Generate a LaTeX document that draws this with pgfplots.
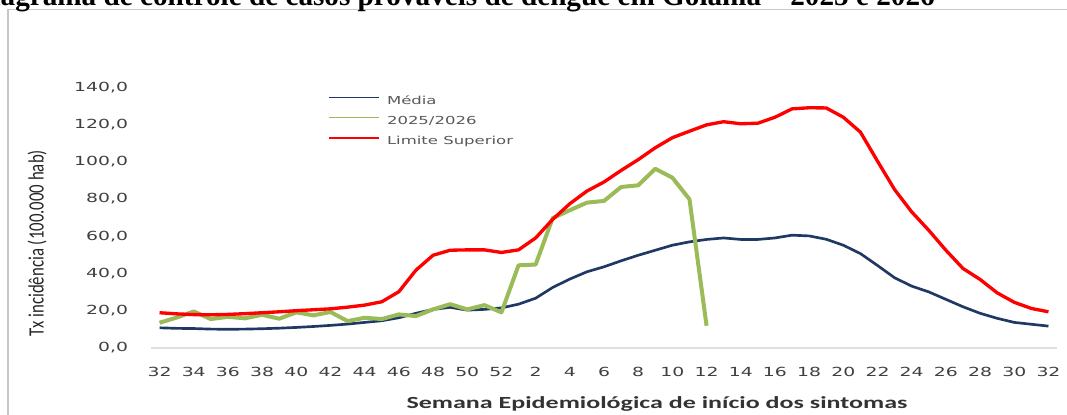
\documentclass[border=0pt]{standalone}
\usepackage{fontspec}
\usepackage{graphicx}
\usepackage{pgfplots}
\pgfplotsset{compat=1.18}
\newfontfamily\tickfont[FakeStretch=1.5]{DejaVu Sans}
\newfontfamily\ylabfont{Carlito}
\newfontfamily\xlabfont[FakeStretch=1.53]{Carlito}
\newfontfamily\titlefont{Liberation Serif}
\definecolor{mblue}{RGB}{31,56,100}
\definecolor{mgreen}{RGB}{155,187,89}
\definecolor{mred}{RGB}{255,0,0}
\definecolor{legtext}{RGB}{89,89,89}
\begin{document}
\begin{tikzpicture}
\path[use as bounding box] (0pt,0pt) rectangle (800.25pt,310.5pt);
\draw[black!22, line width=1pt] (6pt,-5pt) -- (6pt,303.4pt) -- (810pt,303.4pt);
\node[anchor=base east, inner sep=0pt, font=\titlefont\bfseries\fontsize{21.9pt}{22pt}\selectfont] at (701.25pt,306.5pt)
  {Diagrama de controle de casos prováveis de dengue em Goiânia – 2025 e 2026};
\begin{axis}[
  at={(113.25pt,49.725pt)}, anchor=south west,
  scale only axis, width=679.5pt, height=195.3pt,
  xmin=-0.5, xmax=52.5, ymin=0, ymax=140,
  axis x line*=bottom, axis y line*=left,
  x axis line style={draw=black!12, line width=1.5pt, -},
  y axis line style={draw=none},
  major tick length=0pt,
  xtick={0,2,...,52},
  xticklabels={32,34,36,38,40,42,44,46,48,50,52,2,4,6,8,10,12,14,16,18,20,22,24,26,28,30,32},
  ytick={0,20,...,140},
  /pgf/number format/assume math mode=true,
  yticklabel={\pgfmathprintnumber[fixed,fixed zerofill,precision=1,use comma]{\tick}},
  xticklabel style={anchor=center, yshift=-18pt, font=\tickfont\fontsize{9.4pt}{10pt}\selectfont, text=black!75},
  yticklabel style={anchor=east, inner sep=0pt, xshift=-17pt, font=\tickfont\fontsize{9.4pt}{10pt}\selectfont, text=black!75},
  xlabel={Semana Epidemiológica de início dos sintomas},
  ylabel={\scalebox{1}[1.3]{Tx incidência (100.000 hab)}},
  every axis x label/.style={at={(rel axis cs:0.5585,0)}, anchor=center, yshift=-42pt, font=\xlabfont\bfseries\fontsize{12.75pt}{13pt}\selectfont, text=black!80},
  every axis y label/.style={at={(rel axis cs:-0.1258,0.402)}, anchor=center, rotate=90, font=\ylabfont\fontsize{12.6pt}{13pt}\selectfont, text=black!85},
  legend cell align=left,
  legend style={at={(rel axis cs:0.195,0.969)}, anchor=north west, draw=none, fill=none,
    inner sep=0pt, row sep=6.7pt, column sep=5pt,
    font=\tickfont\fontsize{8.25pt}{9pt}\selectfont,
    nodes={inner sep=0pt, text height=6.5pt, text depth=1.8pt}},
  line join=round,
]
\addplot[mblue, line width=2pt,
  legend image code/.code={\draw[mblue, line width=1.1pt, line cap=butt] (0pt,2.6pt) -- (38pt,2.6pt);}] coordinates {
(0,10.7)(1,10.4)(2,10.3)(3,10.0)(4,9.9)(5,10.0)(6,10.2)(7,10.5)(8,10.9)(9,11.4)
(10,12.0)(11,12.7)(12,13.6)(13,14.5)(14,16.1)(15,18.5)(16,20.6)(17,21.7)(18,20.2)(19,20.6)
(20,21.4)(21,23.4)(22,26.6)(23,32.4)(24,36.9)(25,40.8)(26,43.5)(27,46.7)(28,49.7)(29,52.4)
(30,55.1)(31,56.9)(32,58.2)(33,59.0)(34,58.2)(35,58.2)(36,59.0)(37,60.5)(38,60.1)(39,58.3)
(40,55.1)(41,50.6)(42,44.2)(43,37.6)(44,33.1)(45,30.0)(46,26.0)(47,22.0)(48,18.5)(49,15.8)
(50,13.6)(51,12.6)(52,11.6)};
\addlegendentry{\textcolor{legtext}{Média}}
\addplot[mgreen, line width=3pt,
  legend image code/.code={\draw[mgreen, line width=1.1pt, line cap=butt] (0pt,2.6pt) -- (38pt,2.6pt);}] coordinates {
(0,13.4)(1,16.2)(2,19.5)(3,15.4)(4,16.6)(5,15.8)(6,17.7)(7,15.6)(8,19.0)(9,17.4)
(10,19.2)(11,14.3)(12,16.1)(13,15.4)(14,17.9)(15,17.0)(16,20.6)(17,23.4)(18,20.6)(19,22.9)
(20,19.0)(21,44.3)(22,44.7)(23,69.7)(24,73.9)(25,78.0)(26,78.9)(27,86.4)(28,87.3)(29,96.2)
(30,91.4)(31,79.8)(32,11.8)};
\addlegendentry{\textcolor{legtext}{2025/2026}}
\addplot[mred, line width=2.5pt,
  legend image code/.code={\draw[mred, line width=1.3pt, line cap=butt] (0pt,2.6pt) -- (38pt,2.6pt);}] coordinates {
(0,18.8)(1,18.2)(2,17.8)(3,17.7)(4,17.9)(5,18.3)(6,18.8)(7,19.3)(8,19.9)(9,20.4)
(10,20.9)(11,21.8)(12,22.9)(13,24.7)(14,30.1)(15,41.7)(16,49.7)(17,52.4)(18,52.6)(19,52.6)
(20,51.2)(21,52.6)(22,59.0)(23,69.0)(24,77.4)(25,84.2)(26,89.1)(27,95.3)(28,101.1)(29,107.5)
(30,112.9)(31,116.4)(32,119.8)(33,121.5)(34,120.4)(35,120.7)(36,123.9)(37,128.4)(38,129.0)(39,128.9)
(40,123.9)(41,115.9)(42,100.3)(43,85.0)(44,73.0)(45,63.1)(46,52.4)(47,42.6)(48,36.7)(49,29.5)
(50,24.4)(51,21.1)(52,19.3)};
\addlegendentry{\textcolor{legtext}{Limite Superior}}
\end{axis}
\end{tikzpicture}
\end{document}
